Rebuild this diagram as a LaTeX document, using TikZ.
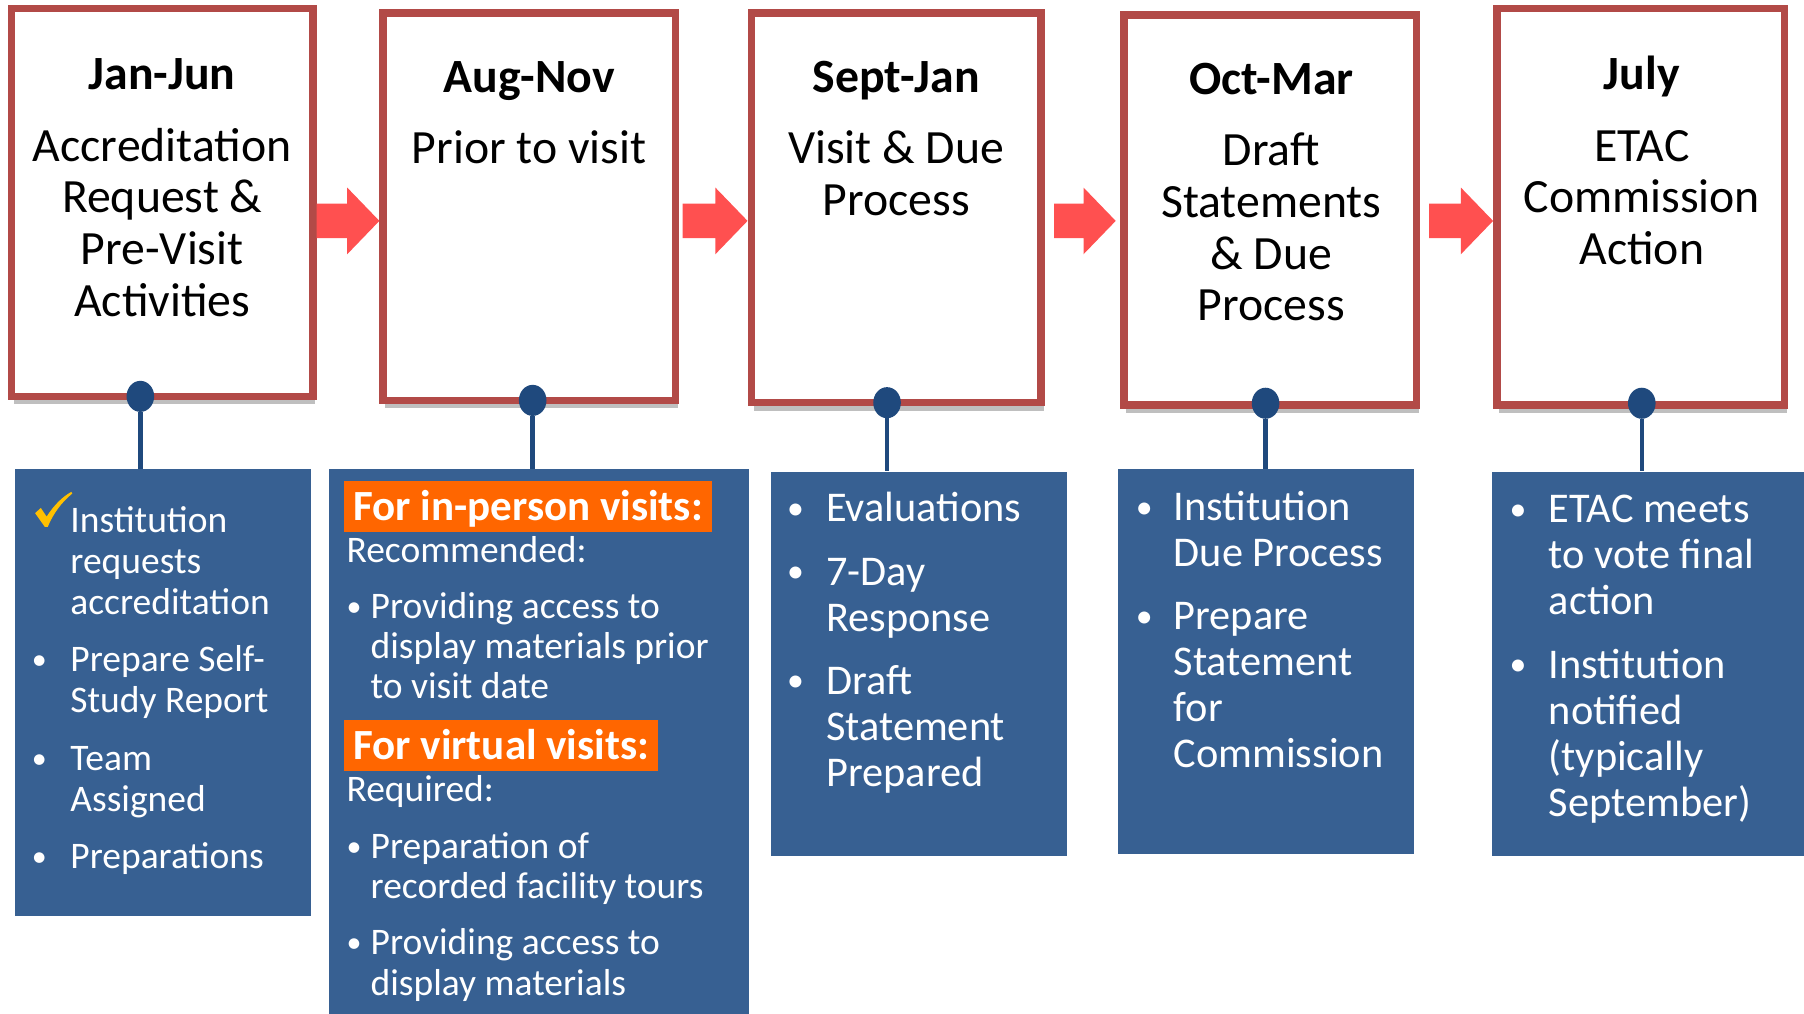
\documentclass[tikz,border=0pt]{standalone}
\usepackage{fontspec}
\usepackage{graphicx}
\setmainfont{Carlito}
\usetikzlibrary{shapes.geometric,shadows,calc}
\definecolor{boxred}{HTML}{B24A47}
\definecolor{arrowred}{HTML}{FF5050}
\definecolor{panelblue}{HTML}{376092}
\definecolor{dotblue}{HTML}{1F497D}
\definecolor{hdrorange}{HTML}{FF6600}
\definecolor{checkgold}{HTML}{FFC000}
\tikzset{
  stagebox/.style={rectangle, draw=boxred, line width=6.5pt, fill=white, inner sep=0pt,
    drop shadow={shadow xshift=2pt, shadow yshift=-7pt, opacity=0.25, fill=black}},
  panel/.style={rectangle, fill=panelblue, inner sep=0pt},
  stagetext/.style={inner sep=0pt, anchor=base, font=\fontsize{41.5}{45}\selectfont},
  paneltext/.style={inner sep=0pt, anchor=base west, text=white},
  bigtext/.style={paneltext, font=\fontsize{36.8}{40}\selectfont},
  smalltext/.style={paneltext, font=\fontsize{32.6}{35.5}\selectfont},
  hdr/.style={rectangle, fill=hdrorange, text=white, anchor=north west, inner xsep=8pt,
    inner ysep=4pt, text height=30pt, text depth=6pt, font=\fontsize{37.4}{40}\selectfont\bfseries},
  pin/.style={ellipse, fill=dotblue, minimum width=24pt, minimum height=27pt, inner sep=0pt},
  pinline/.style={draw=dotblue, line width=4pt},
  blockarrow/.style={fill=arrowred},
  checkmark/.style={fill=checkgold},
}
\newcommand\pbul{\raisebox{0.06em}{\scalebox{0.8}{•}}}
% #1 from node, #2 to node, #3 gap after tail node, #4 gap before head node
\newcommand\stagearrow[4]{%
  \fill[blockarrow] ($(#1.east |- ay)+(#3,-15)$) -- ($(#2.west |- ay)+(-28-#4,-15)$)
    -- ($(#2.west |- ay)+(-28-#4,-29)$) -- ($(#2.west |- ay)+(-#4,0)$) -- ($(#2.west |- ay)+(-28-#4,29)$)
    -- ($(#2.west |- ay)+(-28-#4,15)$) -- ($(#1.east |- ay)+(#3,15)$) -- cycle;}
\begin{document}
\begin{tikzpicture}[x=1pt,y=-1pt]
\useasboundingbox (0,0) rectangle (1568,880.5);
\coordinate (ay) at (0,192);

% panels
\node[panel, minimum width=257pt, minimum height=388pt] (p1) at (141.5,602) {};
\node[panel, minimum width=365pt, minimum height=477pt] (p2) at (468.5,646.5) {};
\node[panel, minimum width=257pt, minimum height=334pt] (p3) at (798.5,577) {};
\node[panel, minimum width=257pt, minimum height=334pt] (p4) at (1100.5,575) {};
\node[panel, minimum width=271pt, minimum height=334pt] (p5) at (1432.5,577) {};

% stage boxes
\node[stagebox, minimum width=262pt, minimum height=337pt] (b1) at (141,176) {};
\node[stagebox, minimum width=254pt, minimum height=336.5pt] (b2) at (460,179.75) {};
\node[stagebox, minimum width=252pt, minimum height=338.5pt] (b3) at (779,180.75) {};
\node[stagebox, minimum width=254pt, minimum height=339pt] (b4) at (1104,182.5) {};
\node[stagebox, minimum width=250pt, minimum height=344.5pt] (b5) at (1426,179.75) {};

% arrows
\stagearrow{b1}{b2}{0}{0}
\stagearrow{b2}{b3}{3}{0}
\stagearrow{b3}{b4}{8}{4}
\stagearrow{b4}{b5}{8}{0}

% pins and connectors
\node[pin] (d1) at (122,344.5) {};
\node[pin] (d2) at (463,348) {};
\node[pin] (d3) at (771,350) {};
\node[pin] (d4) at (1100,350.5) {};
\node[pin] (d5) at (1427,350.5) {};
\foreach \i in {1,...,5} {\draw[pinline] (d\i.south) -- (p\i.north -| d\i);}

% stage texts
\node[stagetext] (s1) at (141,78) {\begin{tabular}[t]{@{}c@{}}\textbf{Jan-Jun}\\[17pt]
  Accreditation\\ Request \&\\ Pre-Visit\\ Activities\end{tabular}};
\node[stagetext] (s2) at (460,80) {\begin{tabular}[t]{@{}c@{}}\textbf{Aug-Nov}\\[17pt]
  Prior to visit\end{tabular}};
\node[stagetext] (s3) at (779,80) {\begin{tabular}[t]{@{}c@{}}\textbf{Sept-Jan}\\[17pt]
  Visit \& Due\\ Process\end{tabular}};
\node[stagetext] (s4) at (1105,82) {\begin{tabular}[t]{@{}c@{}}\textbf{Oct-Mar}\\[17pt]
  Draft\\ Statements\\ \& Due\\ Process\end{tabular}};
\node[stagetext] (s5) at (1427,78) {\begin{tabular}[t]{@{}c@{}}\textbf{July}\\[17pt]
  ETAC\\ Commission\\ Action\end{tabular}};

% panel 1
\fill[checkmark] (30.5,446) -- (35.5,441.5) -- (40.5,449)
  .. controls (47,439) and (54,432) .. (62,427.5) -- (62.8,429)
  .. controls (53,437) and (46,447) .. (41.5,458) -- (39,458) -- cycle;
\node[smalltext] (q1) at (27.5,463) {\begin{tabular}[t]{@{}p{33.5pt}@{}l@{}}
  & Institution\\ & requests\\ & accreditation\\[14.5pt]
  \pbul & Prepare Self-\\ & Study Report\\[14.5pt]
  \pbul & Team\\ & Assigned\\[14.5pt]
  \pbul & Preparations\end{tabular}};

% panel 2
\node[hdr] (h1) at (299,418) {For in-person visits:};
\node[smalltext, font=\fontsize{32.6}{35}\selectfont] (q2a) at (301,489) {\begin{tabular}[t]{@{}p{21pt}@{}l@{}}
  \multicolumn{2}{@{}l@{}}{Recommended:}\\[13.5pt]
  \pbul & Providing access to\\ & display materials prior\\ & to visit date\end{tabular}};
\node[hdr] (h2) at (299,626) {For virtual visits:};
\node[smalltext, font=\fontsize{32.6}{35}\selectfont] (q2b) at (301,697) {\begin{tabular}[t]{@{}p{21pt}@{}l@{}}
  \multicolumn{2}{@{}l@{}}{Required:}\\[14pt]
  \pbul & Preparation of\\ & recorded facility tours\\[14pt]
  \pbul & Providing access to\\ & display materials\end{tabular}};

% panel 3
\node[bigtext] (q3) at (684,453.5) {\begin{tabular}[t]{@{}p{34pt}@{}l@{}}
  \pbul & Evaluations\\[15pt]
  \pbul & 7-Day\\ & Response\\[15pt]
  \pbul & Draft\\ & Statement\\ & Prepared\end{tabular}};

% panel 4
\node[bigtext] (q4) at (987,452.5) {\begin{tabular}[t]{@{}p{33pt}@{}l@{}}
  \pbul & Institution\\ & Due Process\\[15pt]
  \pbul & Prepare\\ & Statement\\ & for\\ & Commission\end{tabular}};

% panel 5
\node[bigtext] (q5) at (1312,454.5) {\begin{tabular}[t]{@{}p{34pt}@{}l@{}}
  \pbul & ETAC meets\\ & to vote final\\ & action\\[15pt]
  \pbul & Institution\\ & notified\\ & (typically\\ & September)\end{tabular}};
\end{tikzpicture}
\end{document}
